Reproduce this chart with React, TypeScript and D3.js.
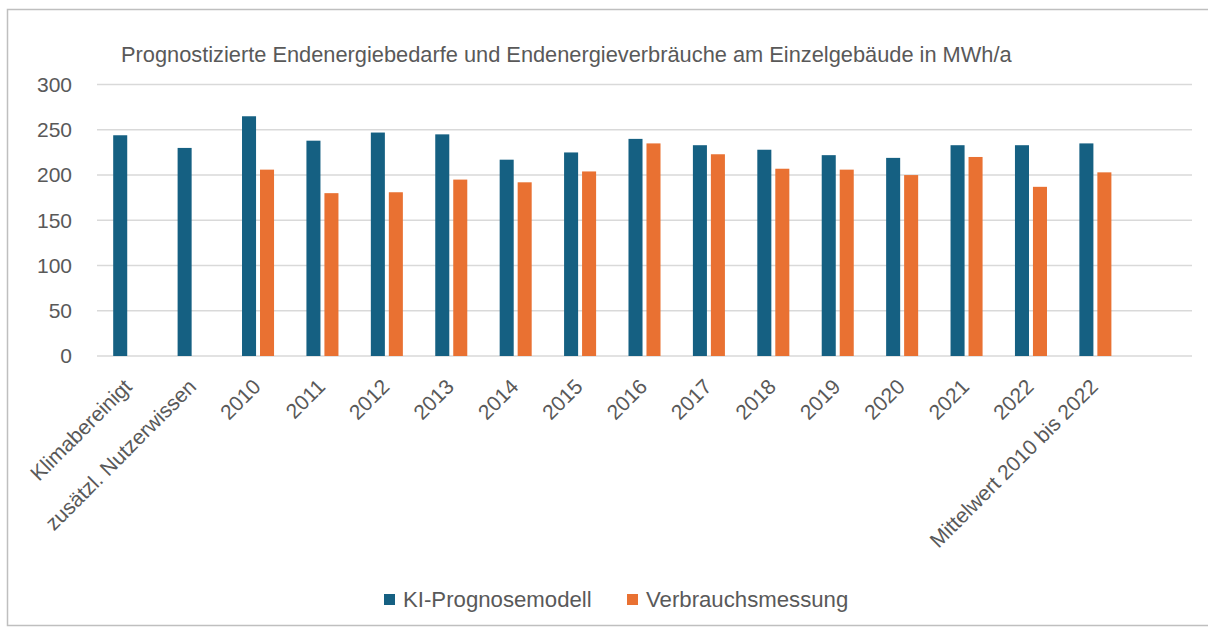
import React from "react";
import * as d3 from "d3";

const categories = [
  "Klimabereinigt",
  "zusätzl. Nutzerwissen",
  "2010", "2011", "2012", "2013", "2014", "2015", "2016",
  "2017", "2018", "2019", "2020", "2021", "2022",
  "Mittelwert 2010 bis 2022",
  "",
];

const seriesNames = ["KI-Prognosemodell", "Verbrauchsmessung"];

const kiPrognose: (number | null)[] = [
  244, 230, 265, 238, 247, 245, 217, 225, 240, 233, 228, 222, 219, 233, 233, 235, null,
];

const verbrauch: (number | null)[] = [
  null, null, 206, 180, 181, 195, 192, 204, 235, 223, 207, 206, 200, 220, 187, 203, null,
];

const yTicks = [0, 50, 100, 150, 200, 250, 300];

const title =
  "Prognostizierte Endenergiebedarfe und Endenergieverbräuche am Einzelgebäude in MWh/a";

const colors = ["#156082", "#E97132"];
const textColor = "#595959";
const font = "'Liberation Sans', Arial, sans-serif";

export default function App() {
  const width = 1208;
  const height = 628;
  const plotLeft = 97;
  const plotRight = 1192;
  const plotTop = 84.6;
  const plotBottom = 356;

  const x0 = d3.scaleBand<string>()
    .domain(categories.map((c, i) => `${i}`))
    .range([plotLeft, plotRight])
    .paddingInner(0)
    .paddingOuter(0);

  const x1 = d3.scaleBand<string>()
    .domain(seriesNames)
    .range([0, x0.bandwidth()])
    .paddingInner(0.22)
    .paddingOuter(0.9);

  const y = d3.scaleLinear().domain([0, 300]).range([plotBottom, plotTop]);

  const allSeries = [kiPrognose, verbrauch];

  return (
    <svg
      width={width}
      height={height}
      style={{ position: "absolute", left: 0, top: 0, background: "#fff" }}
      fontFamily={font}
    >
      <rect x={0} y={0} width={width} height={height} fill="#ffffff" />
      {/* chart frame */}
      <rect x={7.5} y={9.5} width={1210} height={616} fill="none" stroke="#bfbfbf" strokeWidth={1.5} />

      <text x={121} y={62} fontSize={21.8} fill={textColor}>{title}</text>

      {/* gridlines and value labels */}
      {yTicks.map((t) => (
        <g key={t}>
          <line x1={plotLeft} x2={plotRight} y1={y(t)} y2={y(t)} stroke="#d9d9d9" strokeWidth={1.5} />
          <text x={72} y={y(t)} dy="0.35em" textAnchor="end" fontSize={21} fill={textColor}>
            {t}
          </text>
        </g>
      ))}

      {/* bars */}
      {allSeries.map((vals, si) =>
        vals.map((v, i) =>
          v == null ? null : (
            <rect
              key={`${si}-${i}`}
              x={(x0(`${i}`) as number) + (x1(seriesNames[si]) as number)}
              y={y(v)}
              width={x1.bandwidth()}
              height={y(0) - y(v)}
              fill={colors[si]}
            />
          )
        )
      )}

      {/* category labels */}
      {categories.map((c, i) => {
        const cx = (x0(`${i}`) as number) + x0.bandwidth() / 2;
        const lx = cx + 4;
        const ly = 388;
        return (
          <text
            key={i}
            x={lx}
            y={ly}
            textAnchor="end"
            fontSize={21}
            fill={textColor}
            transform={`rotate(-45, ${lx}, ${ly})`}
          >
            {c}
          </text>
        );
      })}

      {/* legend */}
      {seriesNames.map((s, i) => {
        const lx = i === 0 ? 384 : 627;
        return (
          <g key={s}>
            <rect x={lx} y={594} width={11} height={11} fill={colors[i]} />
            <text x={lx + 19} y={607} fontSize={22.2} fill={textColor}>{s}</text>
          </g>
        );
      })}
    </svg>
  );
}
